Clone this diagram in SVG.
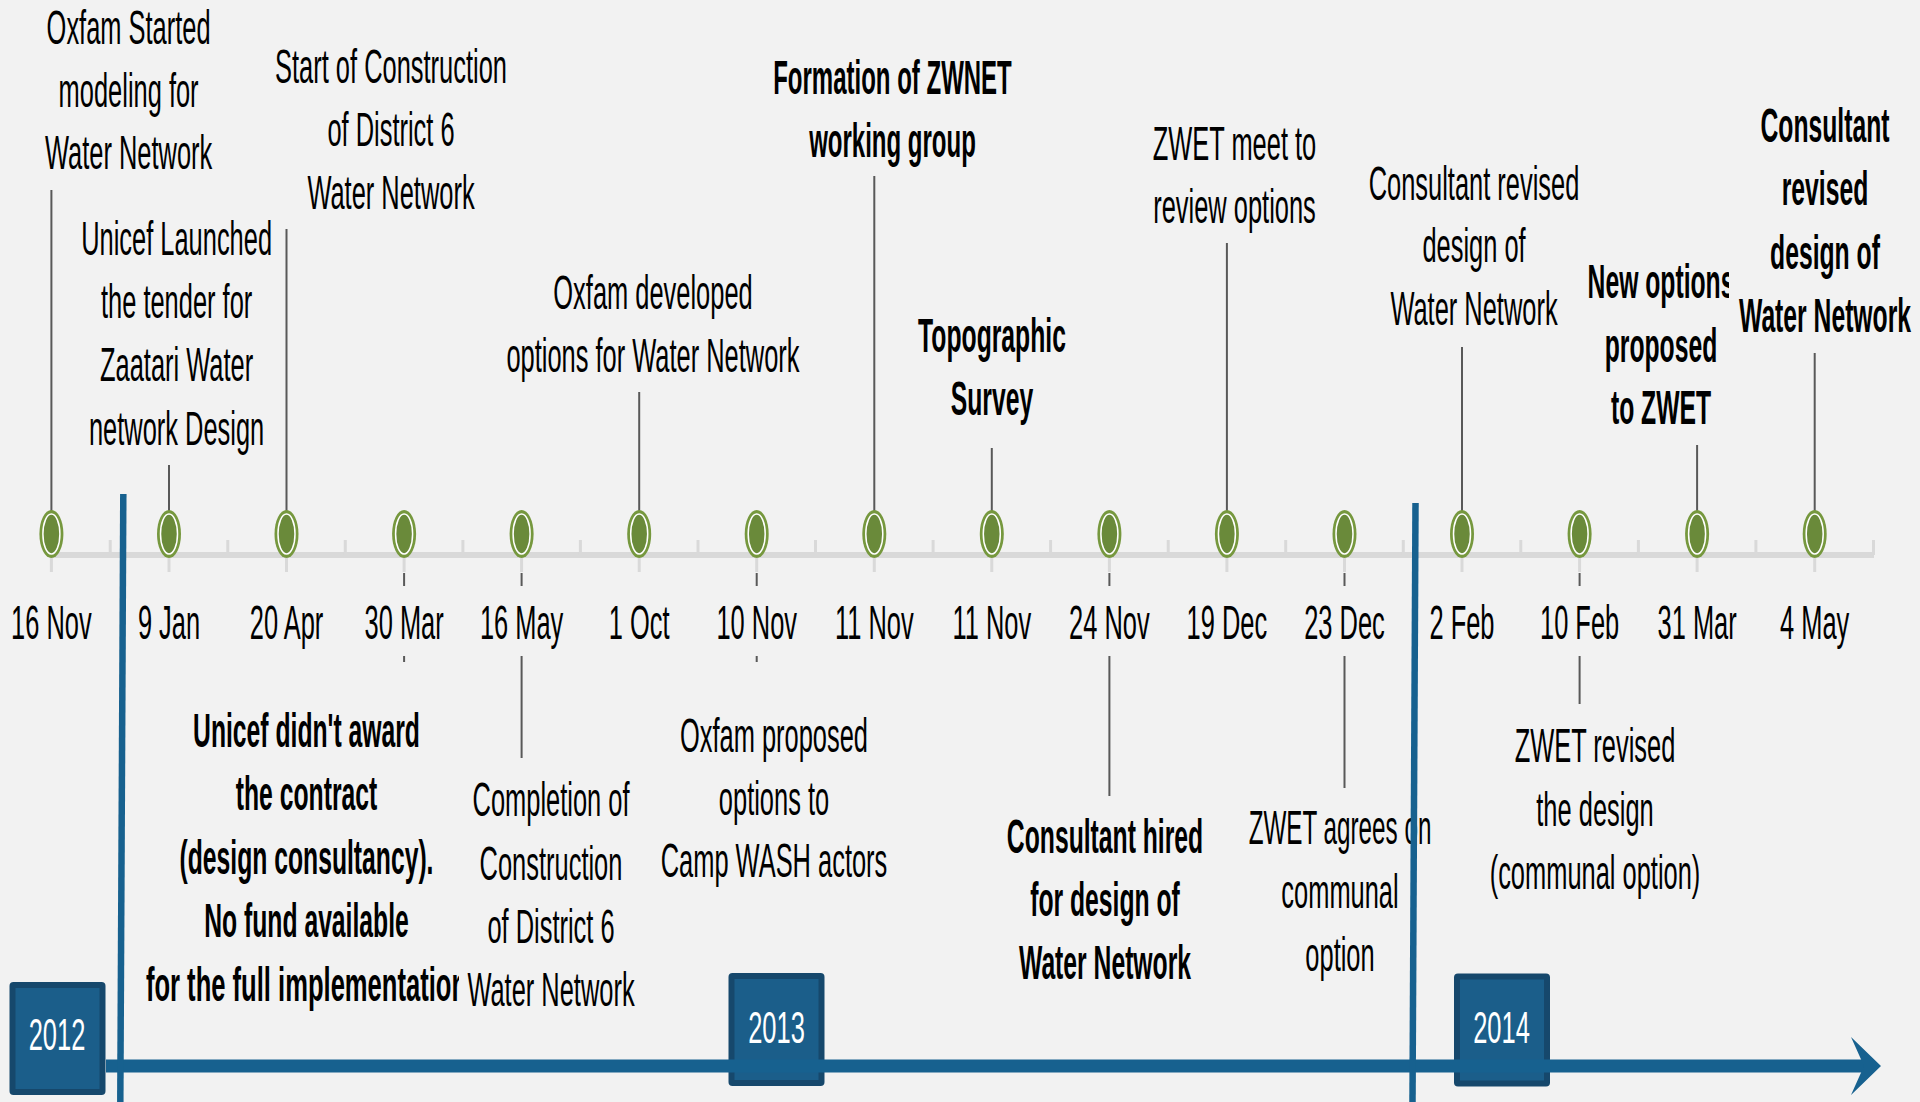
<svg xmlns="http://www.w3.org/2000/svg" xmlns:xlink="http://www.w3.org/1999/xlink" width="1920" height="1102" viewBox="0 0 1920 1102">
  <style>
    .t { font-family: "Liberation Sans", Arial, sans-serif; font-size: 48px; fill: #000; text-anchor: middle; }
    .b { font-weight: bold; }
    .yr { font-family: "Liberation Sans", Arial, sans-serif; font-size: 45px; fill: #fff; text-anchor: middle; }
    .stem { stroke: #595959; stroke-width: 2; fill: none; }
    .stub { stroke: #d9d9d9; stroke-width: 3; }
    .tick { stroke: #d9d9d9; stroke-width: 3; }
    .blue { stroke: #17618f; fill: none; }
  </style>
  <defs>
    <!-- event marker: light green oval with white ring and dark green core -->
    <g id="mk">
      <ellipse cx="0" cy="0" rx="12" ry="24" fill="#76983e"/>
      <ellipse cx="0" cy="0" rx="8.5" ry="20" fill="#6a8a3a" stroke="#ffffff" stroke-width="1.5"/>
    </g>
    <!-- year badge -->
    <g id="yearbox">
      <rect x="0" y="0" width="96" height="113" rx="4" fill="#16486c"/>
      <rect x="6" y="6" width="84" height="101" fill="#1b5e8a"/>
    </g>
    <marker id="arrow" markerUnits="userSpaceOnUse" viewBox="0 0 30 58" markerWidth="30" markerHeight="58" refX="13" refY="29" orient="auto">
      <path d="M0,0 L30,29 L0,58 L13,29 Z" fill="#17618f"/>
    </marker>
    <clipPath id="clipAward"><rect x="0" y="690" width="459" height="340"/></clipPath>
    <clipPath id="clipNewOpt"><rect x="1500" y="240" width="229" height="200"/></clipPath>
  </defs>

  <rect x="0" y="0" width="1920" height="1102" fill="#f2f2f2"/>

  <!-- grey date axis with interval ticks -->
  <g id="axis">
    <line x1="52" y1="555" x2="1874" y2="555" stroke="#d9d9d9" stroke-width="6"/>
    <path class="tick" d="M110.2,540V555 M227.8,540V555 M345.3,540V555 M462.9,540V555 M580.4,540V555 M698,540V555 M815.5,540V555 M933.1,540V555 M1050.6,540V555 M1168.2,540V555 M1285.7,540V555 M1403.3,540V555 M1520.8,540V555 M1638.4,540V555 M1755.9,540V555 M1873.5,540V555"/>
    <path class="stub" d="M51.4,557V572 M169,557V572 M286.5,557V572 M404.1,557V572 M521.6,557V572 M639.2,557V572 M756.7,557V572 M874.3,557V572 M991.8,557V572 M1109.4,557V572 M1226.9,557V572 M1344.5,557V572 M1462,557V572 M1579.6,557V572 M1697.1,557V572 M1814.7,557V572"/>
  </g>

  <!-- leader lines from markers to their captions -->
  <g id="connectors">
    <path class="stem" d="M51.4,190V534"/>
    <path class="stem" d="M169,465V534"/>
    <path class="stem" d="M286.5,229V534"/>
    <path class="stem" d="M404.1,573V586 M404.1,656V662"/>
    <path class="stem" d="M521.6,573V586 M521.6,656V758"/>
    <path class="stem" d="M639.2,392V534"/>
    <path class="stem" d="M756.7,573V586 M756.7,656V662"/>
    <path class="stem" d="M874.3,176V534"/>
    <path class="stem" d="M991.8,448V534"/>
    <path class="stem" d="M1109.4,573V586 M1109.4,656V796"/>
    <path class="stem" d="M1226.9,243V534"/>
    <path class="stem" d="M1344.5,573V586 M1344.5,656V788"/>
    <path class="stem" d="M1462,347V534"/>
    <path class="stem" d="M1579.6,573V586 M1579.6,656V704"/>
    <path class="stem" d="M1697.1,445V534"/>
    <path class="stem" d="M1814.7,353V534"/>
  </g>

  <g id="ev-2012-11-16">
    <use xlink:href="#mk" x="51.4" y="534"/>
    <text class="t" transform="translate(51.4,0) scale(0.53,1)"><tspan x="0" y="639">16 Nov</tspan></text>
    <text class="t" transform="translate(128.6,0) scale(0.53,1)">
      <tspan x="0" y="44">Oxfam Started</tspan><tspan x="0" y="107">modeling for</tspan><tspan x="0" y="169">Water Network</tspan>
    </text>
  </g>

  <g id="ev-2013-01-09">
    <use xlink:href="#mk" x="169" y="534"/>
    <text class="t" transform="translate(169,0) scale(0.53,1)"><tspan x="0" y="639">9 Jan</tspan></text>
    <text class="t" transform="translate(176.6,0) scale(0.53,1)">
      <tspan x="0" y="255">Unicef Launched</tspan><tspan x="0" y="318">the tender for</tspan><tspan x="0" y="381">Zaatari Water</tspan><tspan x="0" y="445">network Design</tspan>
    </text>
  </g>

  <g id="ev-2013-04-20">
    <use xlink:href="#mk" x="286.5" y="534"/>
    <text class="t" transform="translate(286.5,0) scale(0.53,1)"><tspan x="0" y="639">20 Apr</tspan></text>
    <text class="t" transform="translate(391,0) scale(0.53,1)">
      <tspan x="0" y="83">Start of Construction</tspan><tspan x="0" y="146">of District 6</tspan><tspan x="0" y="209">Water Network</tspan>
    </text>
  </g>

  <g id="ev-2013-03-30">
    <use xlink:href="#mk" x="404.1" y="534"/>
    <text class="t" transform="translate(404.1,0) scale(0.53,1)"><tspan x="0" y="639">30 Mar</tspan></text>
    <g clip-path="url(#clipAward)">
      <text class="t b" transform="translate(306.5,0) scale(0.515,1)">
        <tspan x="0" y="747">Unicef didn't award</tspan><tspan x="0" y="810.5">the contract</tspan><tspan x="0" y="874">(design consultancy).</tspan><tspan x="0" y="937.5">No fund available</tspan>
      </text>
      <text class="t b" transform="translate(306.5,0) scale(0.533,1)"><tspan x="0" y="1001">for the full implementation</tspan></text>
    </g>
  </g>

  <g id="ev-2013-05-16">
    <use xlink:href="#mk" x="521.6" y="534"/>
    <text class="t" transform="translate(521.6,0) scale(0.53,1)"><tspan x="0" y="639">16 May</tspan></text>
    <text class="t" transform="translate(551,0) scale(0.53,1)">
      <tspan x="0" y="816">Completion of</tspan><tspan x="0" y="880">Construction</tspan><tspan x="0" y="943">of District 6</tspan><tspan x="0" y="1006">Water Network</tspan>
    </text>
  </g>

  <g id="ev-2013-10-01">
    <use xlink:href="#mk" x="639.2" y="534"/>
    <text class="t" transform="translate(639.2,0) scale(0.53,1)"><tspan x="0" y="639">1 Oct</tspan></text>
    <text class="t" transform="translate(653,0) scale(0.53,1)">
      <tspan x="0" y="309">Oxfam developed</tspan><tspan x="0" y="372">options for Water Network</tspan>
    </text>
  </g>

  <g id="ev-2013-11-10">
    <use xlink:href="#mk" x="756.7" y="534"/>
    <text class="t" transform="translate(756.7,0) scale(0.53,1)"><tspan x="0" y="639">10 Nov</tspan></text>
    <text class="t" transform="translate(774,0) scale(0.53,1)">
      <tspan x="0" y="752">Oxfam proposed</tspan><tspan x="0" y="815">options to</tspan><tspan x="0" y="877">Camp WASH actors</tspan>
    </text>
  </g>

  <g id="ev-2013-11-11a">
    <use xlink:href="#mk" x="874.3" y="534"/>
    <text class="t" transform="translate(874.3,0) scale(0.53,1)"><tspan x="0" y="639">11 Nov</tspan></text>
    <text class="t b" transform="translate(892.5,0) scale(0.5,1)">
      <tspan x="0" y="94">Formation of ZWNET</tspan><tspan x="0" y="157">working group</tspan>
    </text>
  </g>

  <g id="ev-2013-11-11b">
    <use xlink:href="#mk" x="991.8" y="534"/>
    <text class="t" transform="translate(991.8,0) scale(0.53,1)"><tspan x="0" y="639">11 Nov</tspan></text>
    <text class="t b" transform="translate(992,0) scale(0.515,1)">
      <tspan x="0" y="352">Topographic</tspan><tspan x="0" y="415">Survey</tspan>
    </text>
  </g>

  <g id="ev-2013-11-24">
    <use xlink:href="#mk" x="1109.4" y="534"/>
    <text class="t" transform="translate(1109.4,0) scale(0.53,1)"><tspan x="0" y="639">24 Nov</tspan></text>
    <text class="t b" transform="translate(1105,0) scale(0.515,1)">
      <tspan x="0" y="853">Consultant hired</tspan><tspan x="0" y="916.5">for design of</tspan><tspan x="0" y="979">Water Network</tspan>
    </text>
  </g>

  <g id="ev-2013-12-19">
    <use xlink:href="#mk" x="1226.9" y="534"/>
    <text class="t" transform="translate(1226.9,0) scale(0.53,1)"><tspan x="0" y="639">19 Dec</tspan></text>
    <text class="t" transform="translate(1234.5,0) scale(0.53,1)">
      <tspan x="0" y="160">ZWET meet to</tspan><tspan x="0" y="223">review options</tspan>
    </text>
  </g>

  <g id="ev-2013-12-23">
    <use xlink:href="#mk" x="1344.5" y="534"/>
    <text class="t" transform="translate(1344.5,0) scale(0.53,1)"><tspan x="0" y="639">23 Dec</tspan></text>
    <text class="t" transform="translate(1340,0) scale(0.505,1)"><tspan x="0" y="844">ZWET agrees on</tspan></text>
    <text class="t" transform="translate(1340,0) scale(0.53,1)">
      <tspan x="0" y="908">communal</tspan><tspan x="0" y="971">option</tspan>
    </text>
  </g>

  <g id="ev-2014-02-02">
    <use xlink:href="#mk" x="1462" y="534"/>
    <text class="t" transform="translate(1462,0) scale(0.53,1)"><tspan x="0" y="639">2 Feb</tspan></text>
    <text class="t" transform="translate(1474,0) scale(0.53,1)">
      <tspan x="0" y="200">Consultant revised</tspan><tspan x="0" y="262">design of</tspan><tspan x="0" y="325">Water Network</tspan>
    </text>
  </g>

  <g id="ev-2014-02-10">
    <use xlink:href="#mk" x="1579.6" y="534"/>
    <text class="t" transform="translate(1579.6,0) scale(0.53,1)"><tspan x="0" y="639">10 Feb</tspan></text>
    <text class="t" transform="translate(1595,0) scale(0.53,1)">
      <tspan x="0" y="762.5">ZWET revised</tspan><tspan x="0" y="826">the design</tspan><tspan x="0" y="889">(communal option)</tspan>
    </text>
  </g>

  <g id="ev-2014-03-31">
    <use xlink:href="#mk" x="1697.1" y="534"/>
    <text class="t" transform="translate(1697.1,0) scale(0.53,1)"><tspan x="0" y="639">31 Mar</tspan></text>
    <g clip-path="url(#clipNewOpt)">
      <text class="t b" transform="translate(1661,0) scale(0.515,1)">
        <tspan x="0" y="298">New options</tspan><tspan x="0" y="362">proposed</tspan><tspan x="0" y="424">to ZWET</tspan>
      </text>
    </g>
  </g>

  <g id="ev-2014-05-04">
    <use xlink:href="#mk" x="1814.7" y="534"/>
    <text class="t" transform="translate(1814.7,0) scale(0.53,1)"><tspan x="0" y="639">4 May</tspan></text>
    <text class="t b" transform="translate(1825,0) scale(0.515,1)">
      <tspan x="0" y="142">Consultant</tspan><tspan x="0" y="205.5">revised</tspan><tspan x="0" y="269">design of</tspan><tspan x="0" y="332.5">Water Network</tspan>
    </text>
  </g>

  <!-- year band: badges, main arrow and year dividers -->
  <g id="year-2012">
    <use xlink:href="#yearbox" x="9.5" y="982"/>
    <text class="yr" transform="translate(57,0) scale(0.567,1)"><tspan x="0" y="1050">2012</tspan></text>
  </g>
  <g id="year-2013">
    <use xlink:href="#yearbox" x="728.5" y="973"/>
  </g>
  <g id="year-2014">
    <use xlink:href="#yearbox" x="1454" y="973.5"/>
  </g>
  <g id="timeline">
    <line class="blue" x1="106" y1="1066" x2="1864" y2="1066" stroke-width="13" marker-end="url(#arrow)"/>
    <line class="blue" x1="123.3" y1="494" x2="120.3" y2="1102" stroke-width="6.5"/>
    <line class="blue" x1="1415.5" y1="503" x2="1412.5" y2="1102" stroke-width="6.5"/>
  </g>
  <!-- year captions sit above the arrow line that crosses their badges -->
  <g id="year-captions">
    <text class="yr" transform="translate(776.5,0) scale(0.567,1)"><tspan x="0" y="1043">2013</tspan></text>
    <text class="yr" transform="translate(1501.5,0) scale(0.567,1)"><tspan x="0" y="1043">2014</tspan></text>
  </g>
</svg>
